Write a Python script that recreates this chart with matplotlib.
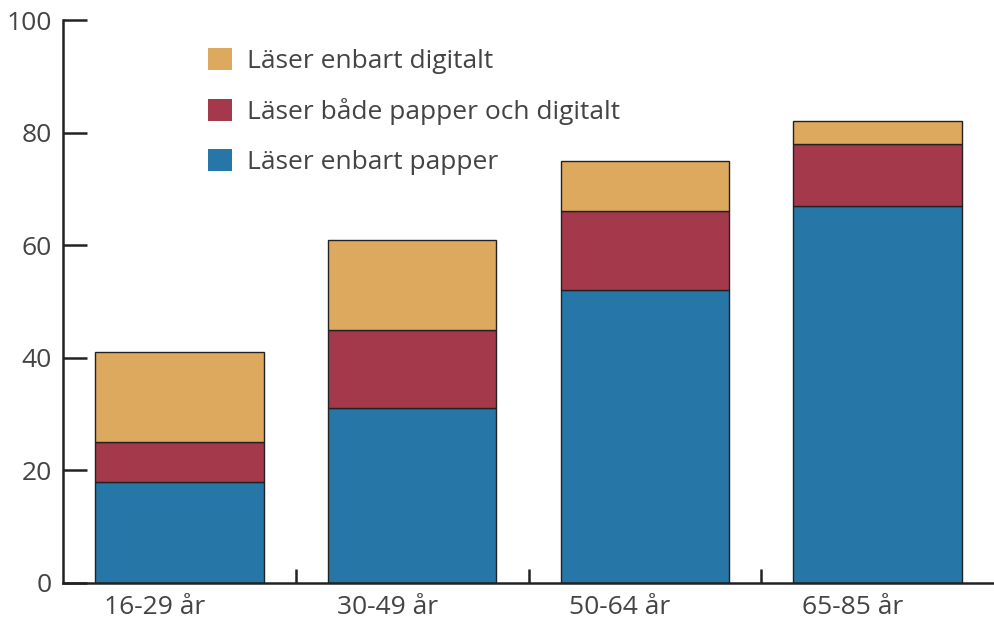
import matplotlib
matplotlib.use("Agg")
from matplotlib import pyplot as plt
from matplotlib.patches import Patch
from matplotlib.transforms import ScaledTranslation

# data
categories = ['16-29 år', '30-49 år', '50-64 år', '65-85 år']
papper = [18, 31, 52, 67]
bada = [7, 14, 14, 11]
digitalt = [16, 16, 9, 4]
labels = ['Läser enbart digitalt', 'Läser både papper och digitalt', 'Läser enbart papper']
colors = ['#DDA95E', '#A4394C', '#2677A8']

plt.rcParams['font.family'] = ['Open Sans', 'DejaVu Sans']
text_color = '#444444'
axis_color = '#222222'

fig = plt.figure(figsize=(9.94, 6.2), dpi=100)
ax = fig.add_axes([63/994, 37/620, 931/994, 563/620])

x = list(range(len(categories)))
bottom2 = papper
bottom3 = [a + b for a, b in zip(papper, bada)]
ax.bar(x, papper, width=0.725, color=colors[2], edgecolor=axis_color, linewidth=1)
ax.bar(x, bada, width=0.725, bottom=bottom2, color=colors[1], edgecolor=axis_color, linewidth=1)
ax.bar(x, digitalt, width=0.725, bottom=bottom3, color=colors[0], edgecolor=axis_color, linewidth=1)

ax.set_xlim(-0.5, 3.5)
ax.set_ylim(0, 100)

for s in ['top', 'right']:
    ax.spines[s].set_visible(False)
for s in ['left', 'bottom']:
    ax.spines[s].set_color(axis_color)
    ax.spines[s].set_linewidth(1.8)

ax.set_yticks([0, 20, 40, 60, 80, 100])
ax.tick_params(axis='y', direction='in', length=17, width=1.8, color=axis_color,
               labelsize=19, labelcolor=text_color, pad=8)
ax.set_xticks(x)
ax.set_xticklabels(categories)
ax.tick_params(axis='x', length=0, labelsize=19, labelcolor=text_color, pad=9)
ax.set_xticks([0.5, 1.5, 2.5], minor=True)
ax.tick_params(axis='x', which='minor', direction='in', length=10, width=1.8, color=axis_color)

# labels sit a bit left of the bar centres
shift = ScaledTranslation(-25/100, 0, fig.dpi_scale_trans)
for lab in ax.get_xticklabels():
    lab.set_transform(lab.get_transform() + shift)

handles = [Patch(facecolor=c, edgecolor='none') for c in colors]
leg = ax.legend(handles, labels, loc='upper left', bbox_to_anchor=(208/994, 1 - 48/620),
                bbox_transform=fig.transFigure, frameon=False, fontsize=19,
                handlelength=0.92, handleheight=0.92, labelspacing=0.9, handletextpad=0.55,
                borderpad=0, borderaxespad=0)
for t in leg.get_texts():
    t.set_color(text_color)

plt.savefig('out.png', dpi=100)
